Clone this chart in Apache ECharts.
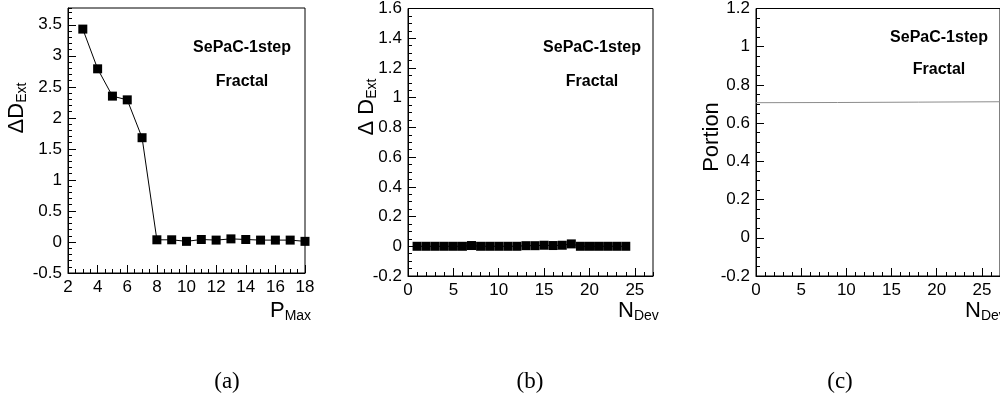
<!DOCTYPE html>
<html>
<head>
<meta charset="utf-8">
<script src="https://cdn.jsdelivr.net/npm/echarts@6/dist/echarts.min.js"></script>
<style>
  html, body { margin: 0; padding: 0; background: #fff; }
  #chart { width: 1000px; height: 396px; }
</style>
</head>
<body>
<div id="chart"></div>
<script>
// panel (a): Delta D_Ext vs P_Max
const pMax = [3, 4, 5, 6, 7, 8, 9, 10, 11, 12, 13, 14, 15, 16, 17, 18];
const dExtA = [3.43, 2.79, 2.35, 2.29, 1.68, 0.035, 0.035, 0.01, 0.04, 0.03, 0.05, 0.04, 0.03, 0.03, 0.03, 0.01];

// panel (b): Delta D_Ext vs N_Dev
const nDevB = [1, 2, 3, 4, 5, 6, 7, 8, 9, 10, 11, 12, 13, 14, 15, 16, 17, 18, 19, 20, 21, 22, 23, 24];
const dExtB = [0, 0, 0, 0, 0, 0, 0.005, 0, 0, 0, 0, 0, 0.004, 0.004, 0.007, 0.005, 0.007, 0.016, 0, 0, 0, 0, 0, 0];

// panel (c): Portion vs N_Dev
const nDevC = [0, 9, 18, 27];
const portionC = [0.707, 0.708, 0.710, 0.712];

const panelText = ['SePaC-1step', 'Fractal'];
const panelLabels = ['(a)', '(b)', '(c)'];

var chart = echarts.init(document.getElementById('chart'));

const FONT = 'Liberation Sans';

// frame sizes for the three panels
const grids = [
    {left: 68, top: 8, width: 237, height: 265},
    {left: 408, top: 8, width: 245, height: 268},
    {left: 756, top: 8, width: 245, height: 268}
];
// [min, max, major, minor, show max label]
const xRanges = [[2, 18, 2, 0.5, true], [0, 27, 5, 1, false], [0, 27, 5, 1, false]];
const yRanges = [[-0.5, 3.77, 0.5, 0.1, false], [-0.2, 1.6, 0.2, 0.05, true], [-0.2, 1.2, 0.2, 0.05, true]];

function majorAxis(i, r, pos) {
    return {
        type: 'value', gridIndex: i, position: pos,
        min: r[0], max: r[1], interval: r[2],
        axisLine: {show: true, onZero: false, lineStyle: {color: '#000', width: 1}},
        axisTick: {show: true, inside: true, length: 8, lineStyle: {color: '#000'}},
        axisLabel: {show: true, color: '#000', fontFamily: FONT, fontSize: 17, margin: 6,
            showMaxLabel: r[4], showMinLabel: true},
        splitLine: {show: false}
    }
}

function minorAxis(i, r, pos) {
    return {
        type: 'value', gridIndex: i, position: pos,
        min: r[0], max: r[1], interval: r[3],
        axisLine: {show: false, onZero: false},
        axisTick: {show: true, inside: true, length: 4, lineStyle: {color: '#000'}},
        axisLabel: {show: false},
        splitLine: {show: false}
    }
}

var xAxis = [], yAxis = [];
for (var i = 0; i < 3; i++) {
    xAxis.push(majorAxis(i, xRanges[i], 'bottom'));
    yAxis.push(majorAxis(i, yRanges[i], 'left'));
}
for (var i = 0; i < 3; i++) {
    xAxis.push(minorAxis(i, xRanges[i], 'bottom'));
    yAxis.push(minorAxis(i, yRanges[i], 'left'));
}

function zip(xs, ys) {
    return xs.map((x, k) => [x, ys[k]])
}

const rich = {
    m: {fontFamily: FONT, fontSize: 22, lineHeight: 24, color: '#000'},
    s: {fontFamily: FONT, fontSize: 14, lineHeight: 8, verticalAlign: 'bottom', color: '#000'}
};

function txt(x, y, text, extra) {
    return {
        type: 'text', x: x, y: y, silent: true,
        style: Object.assign({text: text, fill: '#000', align: 'center', verticalAlign: 'middle'},
            extra || {})
    }
}

var graphic = [];
// annotation text in each panel
[[242, 48, 82], [592, 48, 82], [939, 38, 70]].forEach(p => {
    graphic.push(txt(p[0], p[1], panelText[0], {fontFamily: FONT, fontSize: 16, fontWeight: 'bold'}));
    graphic.push(txt(p[0], p[2], panelText[1], {fontFamily: FONT, fontSize: 16, fontWeight: 'bold'}));
});
// y axis titles
var yA = txt(17, 108, '{m|ΔD}{s|Ext}', {rich: rich});
yA.rotation = Math.PI / 2;
var yB = txt(367, 107, '{m|Δ D}{s|Ext}', {rich: rich});
yB.rotation = Math.PI / 2;
var yC = txt(712, 137, 'Portion', {fontFamily: FONT, fontSize: 22});
yC.rotation = Math.PI / 2;
graphic.push(yA, yB, yC);
// x axis titles
graphic.push(txt(270, 311, '{m|P}{s|Max}', {rich: rich, align: 'left'}));
graphic.push(txt(618, 311, '{m|N}{s|Dev}', {rich: rich, align: 'left'}));
graphic.push(txt(965, 311, '{m|N}{s|Dev}', {rich: rich, align: 'left'}));
// panel labels
[227, 530, 840].forEach((x, k) => {
    graphic.push(txt(x, 382, panelLabels[k], {fontFamily: 'Liberation Serif', fontSize: 23}));
});

var option = {
    animation: false,
    backgroundColor: '#fff',
    grid: grids.map(g => Object.assign({show: true, borderColor: '#000', borderWidth: 1,
        backgroundColor: 'transparent', containLabel: false}, g)),
    xAxis: xAxis,
    yAxis: yAxis,
    series: [
        {
            type: 'line', xAxisIndex: 0, yAxisIndex: 0,
            data: zip(pMax, dExtA),
            symbol: 'rect', symbolSize: 9, showAllSymbol: true,
            lineStyle: {color: '#000', width: 1},
            itemStyle: {color: '#000'},
            silent: true
        },
        {
            type: 'line', xAxisIndex: 1, yAxisIndex: 1,
            data: zip(nDevB, dExtB),
            symbol: 'rect', symbolSize: 9, showAllSymbol: true,
            lineStyle: {color: '#000', width: 1},
            itemStyle: {color: '#000'},
            silent: true
        },
        {
            type: 'line', xAxisIndex: 2, yAxisIndex: 2,
            data: zip(nDevC, portionC),
            symbol: 'none',
            lineStyle: {color: '#8c8c8c', width: 1},
            silent: true
        }
    ],
    graphic: graphic
};

chart.setOption(option);
</script>
</body>
</html>
